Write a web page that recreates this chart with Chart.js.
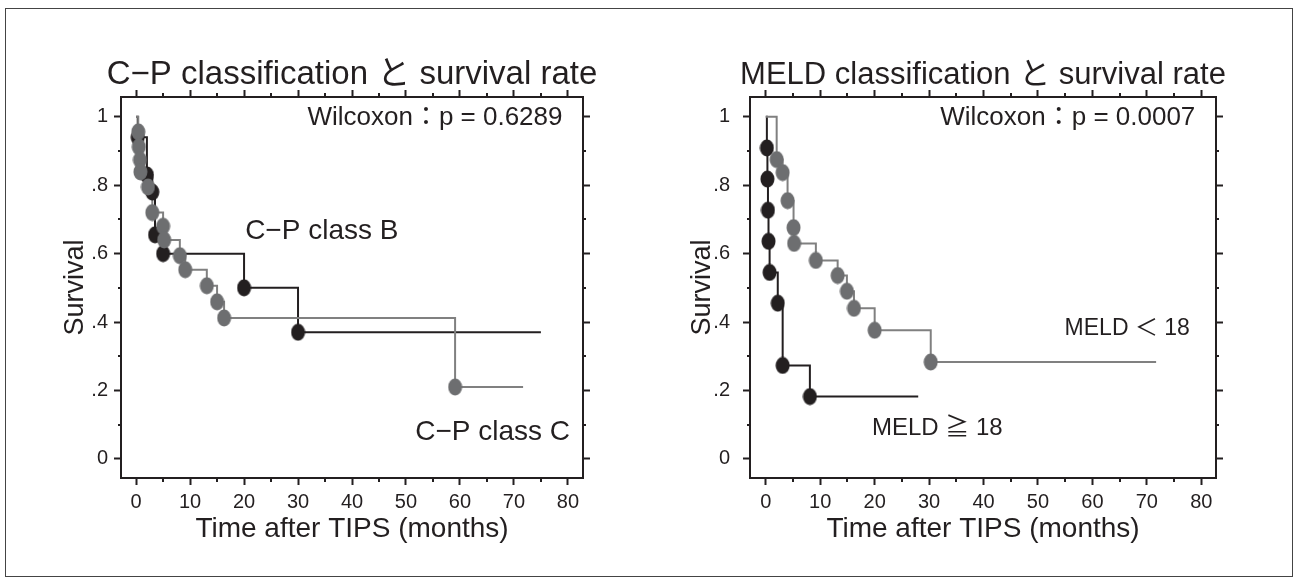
<!DOCTYPE html>
<html>
<head>
<meta charset="utf-8">
<script src="https://cdn.jsdelivr.net/npm/chart.js@4"></script>
<style>
  html, body { margin: 0; padding: 0; background: #fff; }
  #wrap { position: relative; width: 1298px; height: 586px; overflow: hidden; }
  #frame { position: absolute; left: 5px; top: 8px; width: 1286px; height: 567px; border: 1.5px solid #444; }
  canvas { position: absolute; top: 0; }
  #cpChart { left: 0; }
  #meldChart { left: 649px; }
</style>
</head>
<body>
<div id="wrap">
  <div id="frame"></div>
  <canvas id="cpChart" width="649" height="586"></canvas>
  <canvas id="meldChart" width="649" height="586"></canvas>
</div>
<script>
// Kaplan-Meier steps: time (months) and survival after each drop.
// First entry is the start (0, 1), last one is the end of the follow-up line.
const cpTimeB = [0, 0.3, 2, 3, 3.5, 5, 20, 30, 75];
const cpSurvB = [1, 0.94, 0.83, 0.78, 0.655, 0.6, 0.5, 0.37, 0.37];
const cpTimeC = [0, 0.4, 0.5, 0.7, 0.8, 2.2, 3, 5, 5.2, 8.1, 9.1, 13.1, 15, 16.3, 59.1, 71.7];
const cpSurvC = [1, 0.956, 0.912, 0.874, 0.839, 0.795, 0.72, 0.68, 0.64, 0.594, 0.553, 0.506, 0.459, 0.412, 0.21, 0.21];

const meldTimeHigh = [0, 0.2, 0.3, 0.4, 0.5, 0.7, 2.2, 3.1, 8.1, 28];
const meldSurvHigh = [1, 0.909, 0.818, 0.727, 0.636, 0.545, 0.455, 0.273, 0.182, 0.182];
const meldTimeLow = [0, 2, 3.1, 4, 5.1, 5.2, 9.2, 13.2, 14.9, 16.2, 20, 30.3, 71.7];
const meldSurvLow = [1, 0.875, 0.837, 0.755, 0.676, 0.63, 0.58, 0.536, 0.49, 0.44, 0.376, 0.283, 0.283];

const yTickValues = [0, 0.2, 0.4, 0.6, 0.8, 1];
const yTickLabels = ["0", ".2", ".4", ".6", ".8", "1"];
const xMinorTicks = [5, 15, 25, 35, 45, 55, 65, 75];
const yMinorTicks = [0.1, 0.3, 0.5, 0.7, 0.9];

const chartTitles = ["C\u2212P classification と survival rate", "MELD classification と survival rate"];
const xAxisTitle = "Time after TIPS (months)";
const yAxisTitle = "Survival";
const pTexts = ["Wilcoxon：p = 0.6289", "Wilcoxon：p = 0.0007"];
const cpLabels = ["C\u2212P class B", "C\u2212P class C"];
const meldLabels = ["MELD ＜ 18", "MELD ≧ 18"];

const FONT = '"Liberation Sans", "Noto Sans CJK JP", sans-serif';
const INK = "#231f20";
const GRAY_LINE = "#808080";
const GRAY_DOT = "#6d6e70";

function ellipseDot(color) {
  const c = document.createElement("canvas");
  c.width = 15;
  c.height = 18;
  const g = c.getContext("2d");
  g.fillStyle = color;
  g.beginPath();
  g.ellipse(7.5, 9, 7, 8.5, 0, 0, Math.PI * 2);
  g.fill();
  return c;
}

function stepPoints(times, surv) {
  return times.map((t, i) => ({ x: t, y: surv[i] }));
}

function eventPoints(times, surv) {
  return stepPoints(times, surv).slice(1, -1);
}

function lineSet(times, surv, color) {
  return {
    data: stepPoints(times, surv),
    borderColor: color,
    borderWidth: 2,
    stepped: "before",
    pointRadius: 0,
    fill: false
  };
}

function dotSet(times, surv, color) {
  return {
    data: eventPoints(times, surv),
    showLine: false,
    pointStyle: ellipseDot(color),
    pointRadius: 8,
    borderWidth: 0
  };
}

const minorTicksPlugin = {
  id: "minorTicks",
  afterDraw(chart) {
    const { ctx, chartArea: a, scales: { x, y } } = chart;
    ctx.save();
    ctx.strokeStyle = INK;
    ctx.lineWidth = 2;
    ctx.beginPath();
    xMinorTicks.forEach(v => {
      const px = Math.round(x.getPixelForValue(v));
      ctx.moveTo(px, a.bottom);
      ctx.lineTo(px, a.bottom + 4);
      ctx.moveTo(px, a.top);
      ctx.lineTo(px, a.top - 4);
    });
    yMinorTicks.forEach(v => {
      const py = Math.round(y.getPixelForValue(v));
      ctx.moveTo(a.left, py);
      ctx.lineTo(a.left - 3, py);
      ctx.moveTo(a.right, py);
      ctx.lineTo(a.right + 3, py);
    });
    ctx.stroke();
    ctx.restore();
  }
};

function textPlugin(title, titleSize, notes) {
  return {
    id: "chartTexts",
    afterDraw(chart) {
      const { ctx, chartArea: a, scales: { x, y } } = chart;
      ctx.save();
      ctx.fillStyle = INK;
      ctx.font = titleSize + "px " + FONT;
      ctx.textAlign = "center";
      ctx.textBaseline = "alphabetic";
      ctx.fillText(title, (a.left + a.right) / 2, 84);
      notes.forEach(n => {
        ctx.font = n.size + "px " + FONT;
        ctx.textAlign = n.align;
        ctx.textBaseline = "middle";
        ctx.fillText(n.text, x.getPixelForValue(n.x), y.getPixelForValue(n.y));
      });
      ctx.restore();
    }
  };
}

function makeAxes(opt) {
  const grid = () => ({
    display: true,
    drawOnChartArea: false,
    drawTicks: true,
    tickLength: 7,
    tickWidth: 2,
    tickColor: INK
  });
  const border = () => ({ display: true, color: INK, width: 2 });
  const xBase = { type: "linear", min: opt.xMin, max: opt.xMax };
  const yBase = { type: "linear", min: -0.056, max: 1.058 };
  return {
    x: Object.assign({}, xBase, {
      position: "bottom",
      grid: grid(),
      border: border(),
      ticks: { stepSize: 10, includeBounds: false, autoSkip: false, maxRotation: 0, color: INK, padding: 5, font: { family: FONT, size: 20 } },
      title: { display: true, text: xAxisTitle, color: INK, font: { family: FONT, size: 28 }, padding: { top: 0, bottom: 40 } },
      afterFit(s) { s.height = 108; }
    }),
    xTop: Object.assign({}, xBase, {
      position: "top",
      grid: grid(),
      border: border(),
      ticks: { display: false, stepSize: 10, includeBounds: false, autoSkip: false },
      afterFit(s) { s.height = 10; }
    }),
    y: Object.assign({}, yBase, {
      position: "left",
      grid: grid(),
      border: border(),
      ticks: {
        stepSize: 0.2,
        includeBounds: false,
        autoSkip: false,
        color: INK,
        padding: opt.yLabelPad,
        font: { family: FONT, size: 20 },
        callback(v) {
          const i = yTickValues.findIndex(t => Math.abs(t - v) < 1e-6);
          return i >= 0 ? yTickLabels[i] : "";
        }
      },
      title: { display: true, text: yAxisTitle, color: INK, font: { family: FONT, size: 27 }, padding: { top: opt.yTitlePad, bottom: 0 } },
      afterFit(s) { s.width = opt.boxLeft; }
    }),
    yRight: Object.assign({}, yBase, {
      position: "right",
      grid: grid(),
      border: border(),
      ticks: { display: false, stepSize: 0.2, includeBounds: false, autoSkip: false },
      afterFit(s) { s.width = 10; }
    })
  };
}

function makeChart(canvasId, datasets, opt, title, notes) {
  return new Chart(document.getElementById(canvasId), {
    type: "line",
    data: { datasets },
    options: {
      responsive: false,
      animation: false,
      layout: { padding: { top: 87, right: opt.padRight, bottom: 0, left: 0 } },
      plugins: { legend: { display: false }, tooltip: { enabled: false } },
      scales: makeAxes(opt)
    },
    plugins: [minorTicksPlugin, textPlugin(title, opt.titleSize, notes)]
  });
}

// gray drawn on top of black, dots on top of lines
makeChart("cpChart", [
  dotSet(cpTimeC, cpSurvC, GRAY_DOT),
  dotSet(cpTimeB, cpSurvB, INK),
  lineSet(cpTimeC, cpSurvC, GRAY_LINE),
  lineSet(cpTimeB, cpSurvB, INK)
], { xMin: -2.8, xMax: 82.8, boxLeft: 121, padRight: 56, yLabelPad: 6, yTitlePad: 59, titleSize: 33 },
chartTitles[0], [
  { text: pTexts[0], x: 79, y: 0.997, align: "right", size: 26 },
  { text: cpLabels[0], x: 20.2, y: 0.664, align: "left", size: 28 },
  { text: cpLabels[1], x: 80.4, y: 0.079, align: "right", size: 28 }
]);

makeChart("meldChart", [
  dotSet(meldTimeLow, meldSurvLow, GRAY_DOT),
  dotSet(meldTimeHigh, meldSurvHigh, INK),
  lineSet(meldTimeLow, meldSurvLow, GRAY_LINE),
  lineSet(meldTimeHigh, meldSurvHigh, INK)
], { xMin: -2.9, xMax: 82.7, boxLeft: 101, padRight: 72, yLabelPad: 13, yTitlePad: 37, titleSize: 31 },
chartTitles[1], [
  { text: pTexts[1], x: 78.9, y: 0.997, align: "right", size: 26 },
  { text: meldLabels[0], x: 77.9, y: 0.382, align: "right", size: 23 },
  { text: meldLabels[1], x: 19.5, y: 0.09, align: "left", size: 24 }
]);
</script>
</body>
</html>
